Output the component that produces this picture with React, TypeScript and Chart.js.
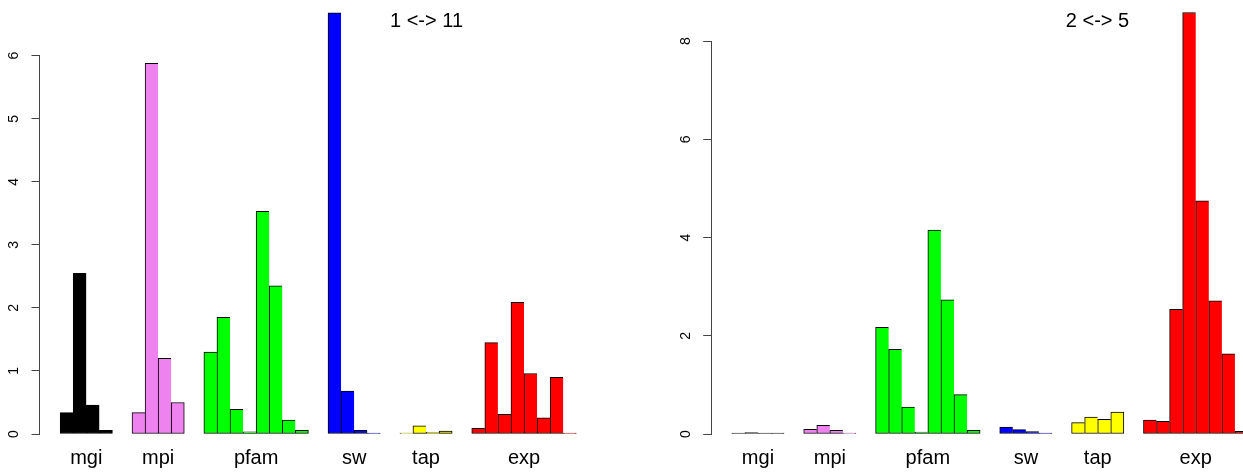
import React, { useEffect, useRef } from 'react';
import { Chart, registerables } from 'chart.js';

Chart.register(...registerables);

// ---- data ----
const groupNames = ['mgi', 'mpi', 'pfam', 'sw', 'tap', 'exp'];
const groupColors = ['#000000', '#EE82EE', '#00FF00', '#0000FF', '#FFFF00', '#FF0000'];

const leftTitle = '1 <-> 11';
const leftMgi = [0.34, 2.55, 0.46, 0.06];
const leftMpi = [0.34, 5.88, 1.2, 0.5];
const leftPfam = [1.3, 1.85, 0.39, 0.035, 3.53, 2.35, 0.22, 0.06];
const leftSw = [6.68, 0.68, 0.06, 0.01];
const leftTap = [0.005, 0.13, 0.026, 0.048];
const leftExp = [0.09, 1.45, 0.31, 2.09, 0.96, 0.255, 0.9, 0.01];
const leftYTicks = [0, 1, 2, 3, 4, 5, 6];

const rightTitle = '2 <-> 5';
const rightMgi = [0.02, 0.03, 0.02, 0.005];
const rightMpi = [0.095, 0.177, 0.075, 0.02];
const rightPfam = [2.17, 1.725, 0.55, 0.04, 4.15, 2.73, 0.8, 0.075];
const rightSw = [0.143, 0.088, 0.047, 0.01];
const rightTap = [0.23, 0.346, 0.3, 0.448];
const rightExp = [0.285, 0.258, 2.54, 8.58, 4.745, 2.71, 1.63, 0.055];
const rightYTicks = [0, 2, 4, 6, 8];

const FONT = '"Liberation Sans", Arial, Helvetica, sans-serif';
const CANVAS_W = 671;
const CANVAS_H = 473;
const BASE_Y = 434;
const UNIT_PX = 13.067;
const GAP = 1.5;

type PanelProps = {
  groups: number[][];
  title: string;
  yTicks: number[];
  chartLeft: number;
  chartTop: number;
};

function Panel({ groups, title, yTicks, chartLeft, chartTop }: PanelProps) {
  const ref = useRef<HTMLCanvasElement | null>(null);

  useEffect(() => {
    const canvas = ref.current;
    if (!canvas) return;

    const pts: { x: number; y: number }[] = [];
    const colors: string[] = [];
    const lastFlags: boolean[] = [];
    const centers: number[] = [];
    let start = 0;
    groups.forEach((vals, g) => {
      vals.forEach((v, i) => {
        pts.push({ x: start + i + 0.5, y: v });
        colors.push(groupColors[g]);
        lastFlags.push(i === vals.length - 1);
      });
      centers.push(start + vals.length / 2);
      start += vals.length + GAP;
    });
    const end = start - GAP;
    const pad = end * 0.04;
    const xMin = -pad;
    const xMax = end + pad;
    const chartW = (xMax - xMin) * UNIT_PX;
    const yMax = yTicks[yTicks.length - 1];
    const yStep = yTicks[1] - yTicks[0];

    const titlePlugin = {
      id: 'panelTitle',
      afterDraw(chart: any) {
        const ctx = chart.ctx;
        ctx.save();
        ctx.font = `20px ${FONT}`;
        ctx.fillStyle = '#000';
        ctx.textAlign = 'center';
        ctx.textBaseline = 'alphabetic';
        ctx.fillText(title, 426.5, 26.8);
        ctx.restore();
      },
    };

    const chart = new Chart(canvas, {
      type: 'bar',
      data: {
        datasets: [
          {
            data: pts as any,
            backgroundColor: colors,
            borderColor: '#000',
            borderWidth: (c: any) => ({
              top: 1,
              left: 1,
              bottom: 1,
              right: lastFlags[c.dataIndex] ? 1 : 0,
            }),
            borderSkipped: false,
            barPercentage: 1,
            categoryPercentage: 1,
            minBarLength: 1,
            clip: false as any,
          },
        ],
      },
      options: {
        animation: false,
        responsive: false,
        devicePixelRatio: 1,
        layout: {
          padding: {
            left: 0,
            top: chartTop,
            right: CANVAS_W - chartLeft - chartW,
            bottom: 0,
          },
        },
        plugins: {
          legend: { display: false },
          tooltip: { enabled: false },
          title: { display: false },
        },
        scales: {
          x: {
            type: 'linear',
            min: xMin,
            max: xMax,
            offset: false,
            border: { display: false },
            grid: { display: false, drawTicks: false },
            afterBuildTicks: (scale: any) => {
              scale.ticks = centers.map((v) => ({ value: v }));
            },
            afterFit: (scale: any) => {
              scale.height = CANVAS_H - BASE_Y;
            },
            ticks: {
              autoSkip: false,
              maxRotation: 0,
              minRotation: 0,
              padding: 12,
              color: '#000',
              font: { family: FONT, size: 20 },
              callback: (v: any) => {
                const idx = centers.findIndex((c) => Math.abs(c - Number(v)) < 1e-6);
                return idx >= 0 ? groupNames[idx] : '';
              },
            },
          },
          y: {
            type: 'linear',
            min: 0,
            max: yMax,
            border: { display: true, color: '#444', width: 1 },
            grid: {
              display: true,
              drawOnChartArea: false,
              drawTicks: true,
              tickLength: 8,
              tickColor: '#444',
            },
            afterBuildTicks: (scale: any) => {
              scale.ticks = yTicks.map((v) => ({ value: v }));
            },
            afterFit: (scale: any) => {
              scale.width = chartLeft;
            },
            ticks: {
              stepSize: yStep,
              minRotation: 90,
              maxRotation: 90,
              crossAlign: 'center',
              padding: 13,
              color: '#000',
              font: { family: FONT, size: 14 },
            },
          },
        },
      } as any,
      plugins: [titlePlugin],
    });

    return () => chart.destroy();
  }, [groups, title, yTicks, chartLeft, chartTop]);

  return <canvas ref={ref} width={CANVAS_W} height={CANVAS_H} style={{ display: 'block' }} />;
}

const leftGroups = [leftMgi, leftMpi, leftPfam, leftSw, leftTap, leftExp];
const rightGroups = [rightMgi, rightMpi, rightPfam, rightSw, rightTap, rightExp];

export default function App() {
  useEffect(() => {
    document.body.style.margin = '0';
    document.body.style.overflow = 'hidden';
  }, []);
  return (
    <div
      style={{
        position: 'fixed',
        left: 0,
        top: 0,
        width: 1243,
        height: 473,
        overflow: 'hidden',
        background: '#fff',
      }}
    >
      <div style={{ position: 'absolute', left: 0, top: 0, width: CANVAS_W, height: CANVAS_H }}>
        <Panel groups={leftGroups} title={leftTitle} yTicks={leftYTicks} chartLeft={39.5} chartTop={55.7} />
      </div>
      <div style={{ position: 'absolute', left: 671, top: 0, width: CANVAS_W, height: CANVAS_H }}>
        <Panel groups={rightGroups} title={rightTitle} yTicks={rightYTicks} chartLeft={40.2} chartTop={41} />
      </div>
    </div>
  );
}
